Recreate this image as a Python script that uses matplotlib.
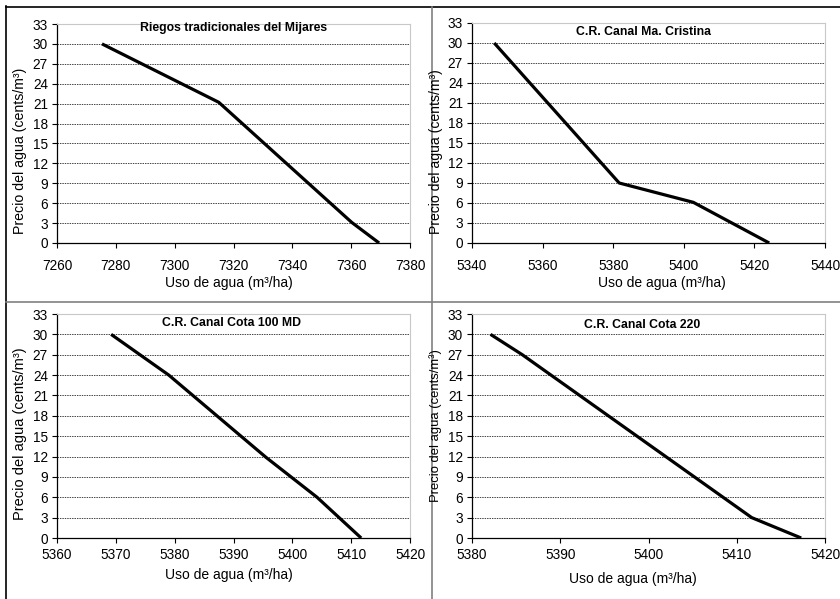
import matplotlib
matplotlib.use("Agg")
import matplotlib.pyplot as plt
from matplotlib.lines import Line2D

# data
titles = ["Riegos tradicionales del Mijares", "C.R. Canal Ma. Cristina",
          "C.R. Canal Cota 100 MD", "C.R. Canal Cota 220"]
uso_mijares = [7275.3, 7315.0, 7360.2, 7369.5]
precio_mijares = [30, 21.2, 3.1, 0]
uso_cristina = [5346.3, 5381.7, 5402.7, 5424.2]
precio_cristina = [30, 9, 6.1, 0]
uso_cota100 = [5369.2, 5379.0, 5395.5, 5404.2, 5411.7]
precio_cota100 = [30, 24, 11.9, 6, 0]
uso_cota220 = [5382.1, 5385.7, 5411.7, 5417.3]
precio_cota220 = [30, 27, 3, 0]
xlims = [(7260, 7380), (5340, 5440), (5360, 5420), (5380, 5420)]
xsteps = [20, 20, 10, 10]
yticks = list(range(0, 34, 3))
ylabel = "Precio del agua (cents/m³)"
xlabel = "Uso de agua (m³/ha)"

W, H = 840, 599
NARROW = ["Liberation Sans Narrow", "Liberation Sans", "DejaVu Sans"]
plt.rcParams['font.family'] = NARROW


def px(x, y):
    return x / W, 1 - y / H


def ax_rect(left, top, right, bottom):
    return [left / W, 1 - bottom / H, (right - left) / W, (bottom - top) / H]


fig = plt.figure(figsize=(W / 100, H / 100), dpi=100)

# panel geometry in pixels: axes box, title, ylabel, xlabel positions
panels = [
    dict(rect=(57, 24, 410, 243), title=(234, 28), ylab=(20, 151), ysize=10.2, xlab=(229, 283), xpad=8),
    dict(rect=(472, 23, 825, 243), title=(643, 32), ylab=(436, 152), ysize=10.1, xlab=(662, 283), xpad=8),
    dict(rect=(57, 314, 410, 538), title=(231, 323), ylab=(20, 434), ysize=10.5, xlab=(229, 575), xpad=4),
    dict(rect=(472, 314, 825, 538), title=(642, 325), ylab=(436, 426), ysize=9.4, xlab=(633, 579), xpad=4),
]
series = [(uso_mijares, precio_mijares), (uso_cristina, precio_cristina),
          (uso_cota100, precio_cota100), (uso_cota220, precio_cota220)]

for i, p in enumerate(panels):
    ax = fig.add_axes(ax_rect(*p["rect"]))
    xs, ys = series[i]
    ax.plot(xs, ys, color="black", lw=2.3, solid_capstyle="butt", zorder=3)
    lo, hi = xlims[i]
    ax.set_xlim(lo, hi)
    ax.set_ylim(0, 33)
    ax.set_xticks(range(lo, hi + 1, xsteps[i]))
    ax.set_yticks(yticks)
    ax.tick_params(axis="both", labelsize=9.8, length=3.5, width=0.8,
                   direction="out", pad=3)
    ax.tick_params(axis="x", pad=p["xpad"])
    ax.grid(axis="y", color="#444444", lw=0.7, ls=(0, (1.5, 1)))
    ax.set_axisbelow(True)
    for s in ["top", "right"]:
        ax.spines[s].set_color("#c8c8c8")
        ax.spines[s].set_linewidth(0.8)
    for s in ["left", "bottom"]:
        ax.spines[s].set_color("black")
        ax.spines[s].set_linewidth(0.9)
    fig.text(*px(*p["title"]), titles[i], ha="center", va="center",
             fontsize=8.8, fontweight="bold")
    fig.text(*px(*p["ylab"]), ylabel, rotation=90,
             ha="center", va="center", fontsize=p["ysize"])
    fig.text(*px(*p["xlab"]), xlabel, ha="center",
             va="center", fontsize=10)

# frame and separators of the composite figure
frame = [((6, 6), (6, H)), ((6, W), (7, 7)),
         ((432, 432), (7, H)), ((6, W), (302, 302))]
for (x0, x1), (y0, y1) in frame:
    col = "black" if x0 == x1 == 6 or y0 == y1 == 7 else "#808080"
    fig.add_artist(Line2D([x0 / W, x1 / W], [1 - y0 / H, 1 - y1 / H],
                          color=col, lw=1.2))

fig.savefig("out.png", dpi=100)
